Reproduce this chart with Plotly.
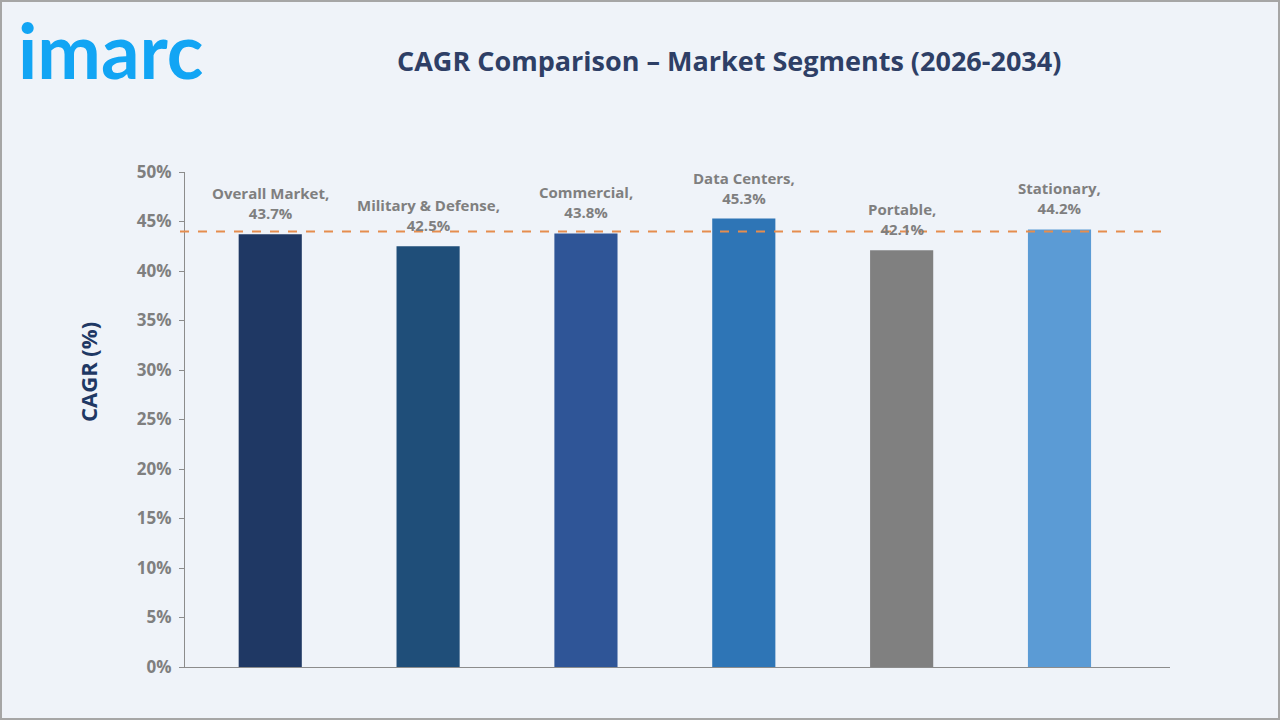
import plotly.graph_objects as go

categories = ["Overall Market", "Military & Defense", "Commercial", "Data Centers", "Portable", "Stationary"]
cagr_values = [43.7, 42.5, 43.8, 45.3, 42.1, 44.2]
bar_colors = ["#1F3864", "#1F4E79", "#2F5597", "#2E75B6", "#808080", "#5B9BD5"]
reference_line = 44.0
y_tick_values = [0, 5, 10, 15, 20, 25, 30, 35, 40, 45, 50]
y_tick_labels = [f"{v}%" for v in y_tick_values]

W, H = 1280, 720
L, R, T, B = 185, 110, 172, 53
pw, ph = W - L - R, H - T - B


def px(x):
    return (x - L) / pw


def py(y):
    return (H - B - y) / ph


fig = go.Figure()
fig.add_trace(go.Bar(
    x=categories, y=cagr_values, marker=dict(color=bar_colors, line=dict(width=0)),
    width=0.4, hoverinfo="skip", showlegend=False,
))

annotations = []
for c, v in zip(categories, cagr_values):
    annotations.append(dict(
        x=c, y=v, xref="x", yref="y", text=f"{c},<br>{v}%", showarrow=False,
        yanchor="bottom", yshift=9,
        font=dict(family="Open Sans", size=15, color="#7F7F7F", weight="bold"),
    ))

annotations.append(dict(
    x=px(729), y=py(60), xref="paper", yref="paper", xanchor="center", yanchor="middle",
    text="<b>CAGR Comparison – Market Segments (2026-2034)</b>", showarrow=False,
    font=dict(family="Open Sans", size=27, color="#2E3F66"),
))
annotations.append(dict(
    x=px(16), y=py(50), xref="paper", yref="paper", xanchor="left", yanchor="middle",
    text="<b>imarc</b>", showarrow=False,
    font=dict(family="Lato", size=76, color="#12A5F4"),
))
annotations.append(dict(
    x=px(88), y=py(372), xref="paper", yref="paper", xanchor="center", yanchor="middle",
    text="<b>CAGR (%)</b>", showarrow=False, textangle=-90,
    font=dict(family="Open Sans", size=22, color="#1F3864"),
))

shapes = [
    dict(type="line", xref="paper", yref="y", x0=px(180), x1=1, y0=reference_line, y1=reference_line,
         line=dict(color="#E58D4E", width=2, dash="dash")),
    dict(type="rect", xref="paper", yref="paper", x0=px(1), x1=px(W - 1), y0=py(H - 1), y1=py(1),
         line=dict(color="#A6A6A6", width=2), fillcolor="rgba(0,0,0,0)", layer="above"),
]

fig.update_layout(
    width=W, height=H,
    margin=dict(l=L, r=R, t=T, b=B, pad=0),
    paper_bgcolor="#EFF3F9", plot_bgcolor="#EFF3F9",
    annotations=annotations, shapes=shapes,
    xaxis=dict(range=[-0.54, 5.70], showticklabels=False, ticks="", showgrid=False,
               showline=True, linecolor="#8C8C8C", linewidth=1, zeroline=False, fixedrange=True),
    yaxis=dict(range=[0, 50], tickvals=y_tick_values, ticktext=y_tick_labels, showgrid=False,
               showline=True, linecolor="#8C8C8C", linewidth=1, ticks="outside", ticklen=5,
               tickcolor="#8C8C8C", zeroline=False, ticklabelstandoff=4,
               tickfont=dict(family="Open Sans", size=17, color="#7F7F7F", weight="bold")),
    bargap=0.6,
)

fig.write_html("out.html")
